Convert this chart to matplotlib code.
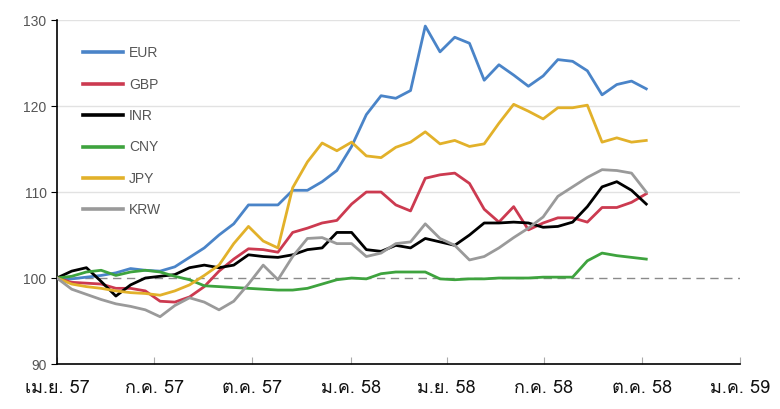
import matplotlib
matplotlib.use("Agg")
import numpy as np
import pandas as pd
import matplotlib.pyplot as plt
from matplotlib import font_manager
from matplotlib.ft2font import FT2Font

# Currency indices (Apr 2014 = 100), read roughly every two weeks
dates = pd.date_range("2014-04-01", "2015-10-05", periods=41)

eur = [100, 99.9, 100.1, 100.3, 100.6, 101.1, 100.9, 100.8, 101.3, 102.4,
       103.5, 105, 106.3, 108.5, 108.5, 108.5, 110.2, 110.2, 111.2, 112.5,
       115.3, 119, 121.2, 120.9, 121.8, 129.3, 126.3, 128, 127.3, 123,
       124.8, 123.6, 122.3, 123.5, 125.4, 125.2, 124.1, 121.3, 122.5, 122.9, 122]
gbp = [100, 99.5, 99.4, 99.3, 98.8, 98.8, 98.5, 97.3, 97.2, 97.8,
       99, 100.8, 102.2, 103.4, 103.3, 103, 105.3, 105.8, 106.4, 106.7,
       108.6, 110, 110, 108.5, 107.8, 111.6, 112, 112.2, 111, 108,
       106.5, 108.3, 105.6, 106.4, 107, 107, 106.5, 108.2, 108.2, 108.8, 109.8]
inr = [100, 100.8, 101.2, 99.6, 97.9, 99.2, 100, 100.2, 100.4, 101.2,
       101.5, 101.2, 101.5, 102.7, 102.5, 102.4, 102.7, 103.3, 103.5, 105.3,
       105.3, 103.3, 103.1, 103.8, 103.5, 104.6, 104.2, 103.8, 105, 106.4,
       106.4, 106.5, 106.4, 105.9, 106, 106.5, 108.3, 110.6, 111.2, 110.2, 108.6]
cny = [100, 100.2, 100.7, 100.9, 100.3, 100.7, 100.9, 100.7, 100.2, 99.8,
       99.1, 99, 98.9, 98.8, 98.7, 98.6, 98.6, 98.8, 99.3, 99.8,
       100, 99.9, 100.5, 100.7, 100.7, 100.7, 99.9, 99.8, 99.9, 99.9,
       100, 100, 100, 100.1, 100.1, 100.1, 102, 102.9, 102.6, 102.4, 102.2]
jpy = [100, 99.3, 99, 98.8, 98.5, 98.3, 98.2, 98, 98.5, 99.2,
       100.3, 101.5, 104, 106, 104.3, 103.5, 110.5, 113.5, 115.7, 114.8,
       115.8, 114.2, 114, 115.2, 115.8, 117, 115.6, 116, 115.3, 115.6,
       118, 120.2, 119.4, 118.5, 119.8, 119.8, 120.1, 115.8, 116.3, 115.8, 116]
krw = [100, 98.7, 98.1, 97.5, 97, 96.7, 96.3, 95.5, 96.8, 97.7,
       97.2, 96.3, 97.3, 99.3, 101.5, 99.8, 102.5, 104.6, 104.7, 104,
       104, 102.5, 102.9, 104, 104.2, 106.3, 104.6, 103.8, 102.1, 102.5,
       103.5, 104.7, 105.8, 107.1, 109.5, 110.6, 111.7, 112.6, 112.5, 112.2, 110]

names = ["EUR", "GBP", "INR", "CNY", "JPY", "KRW"]
colors = ["#4a84c8", "#cc3a50", "#000000", "#3ea33e", "#e2b12a", "#9a9a9a"]

tick_dates = pd.to_datetime(["2014-04-01", "2014-07-01", "2014-10-01", "2015-01-01",
                             "2015-04-01", "2015-07-01", "2015-10-01", "2016-01-01"])
tick_labels = ["เม.ย. 57", "ก.ค. 57", "ต.ค. 57", "ม.ค. 58",
               "ม.ย. 58", "ก.ค. 58", "ต.ค. 58", "ม.ค. 59"]


def thaiFamily():
    """Find an installed font that has Thai glyphs."""
    for f in font_manager.fontManager.ttflist:
        try:
            if 0x0E21 in FT2Font(f.fname).get_charmap():
                return f.name
        except Exception:
            pass
    return None


thai = thaiFamily()
plt.rcParams["font.family"] = ["Liberation Sans", "DejaVu Sans"]

fig = plt.figure(figsize=(7.8, 4.09), dpi=100)
ax = fig.add_axes([0.073, 0.110, 0.876, 0.841])

# --- grid and reference line ---
for yv in [110, 120, 130]:
    ax.axhline(yv, color="#e2e2e2", lw=1.0, zorder=0)
ax.axhline(100, color="#8a8a8a", lw=1.0, ls=(0, (6, 4)), zorder=1)

# --- series ---
series = [eur, gbp, inr, cny, jpy, krw]
for vals, name, col in zip(series, names, colors):
    ax.plot(dates, vals, color=col, lw=2.0, label=name, zorder=3)

ax.set_ylim(90, 130)
ax.set_yticks([90, 100, 110, 120, 130])
ax.set_xlim(tick_dates[0], tick_dates[-1])
ax.set_xticks(tick_dates)
fam = [thai, "DejaVu Sans"] if thai else ["DejaVu Sans"]
ax.set_xticklabels(tick_labels, fontsize=13, family=fam, color="#111111")

ax.spines["top"].set_visible(False)
ax.spines["right"].set_visible(False)
ax.spines["left"].set_linewidth(1.2)
ax.spines["bottom"].set_linewidth(1.2)
ax.tick_params(axis="y", direction="out", length=4, labelsize=10, labelcolor="#555555")
ax.tick_params(axis="x", direction="in", length=5, color="#aaaaaa", pad=11)

leg = ax.legend(loc="upper left", bbox_to_anchor=(0.02, 0.96), frameon=False,
                fontsize=10, handlelength=2.9, labelspacing=1.25, handletextpad=0.4)
for t in leg.get_texts():
    t.set_color("#555555")
for h in leg.get_lines():
    h.set_linewidth(2.6)

fig.savefig("out.png", dpi=100)
